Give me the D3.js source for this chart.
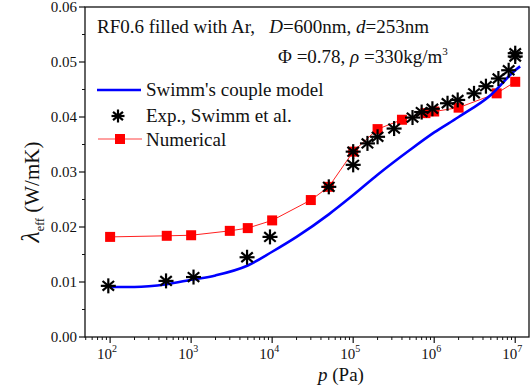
<!DOCTYPE html>
<html>
<head>
<meta charset="utf-8">
<script src="https://cdn.jsdelivr.net/npm/d3@7"></script>
<style>
  body { margin: 0; background: #fff; }
  text { fill: #111; white-space: pre; }
</style>
</head>
<body>
<div id="chart"></div>
<script>
// Experimental data (Swimm et al.)
const expP = [95, 490, 1070, 4900, 9400, 5e4, 1e5, 1e5, 1.5e5, 2e5, 3.2e5, 5.4e5, 7e5, 9.5e5,
  1.46e6, 1.95e6, 3.1e6, 4.35e6, 6.2e6, 8.3e6, 1e7, 1e7];
const expV = [0.0093, 0.0102, 0.0109, 0.0145, 0.0182, 0.0273, 0.0337, 0.0313, 0.0352, 0.0364, 0.0379,
  0.0399, 0.0409, 0.0415, 0.0425, 0.0431, 0.0443, 0.0456, 0.047, 0.0485, 0.051, 0.0516];

// Numerical results
const numP = [100, 500, 1000, 3000, 5000, 1e4, 3e4, 5e4, 1e5, 2e5, 4e5, 7.8e5, 1e6, 2e6, 5.9e6, 1e7];
const numV = [0.0182, 0.0184, 0.0185, 0.0193, 0.0198, 0.0212, 0.0249, 0.0273, 0.0337, 0.0378, 0.0395,
  0.0407, 0.041, 0.0417, 0.0443, 0.0464];

// Swimm's couple model curve
const modP = [100, 200, 500, 1000, 2000, 5000, 1e4, 2e4, 5e4, 1e5, 2e5, 5e5, 1e6, 2e6, 5e6, 1e7, 1.15e7];
const modV = [0.0091, 0.0091, 0.0096, 0.0104, 0.0112, 0.013, 0.0155, 0.0182, 0.0223, 0.0258, 0.0295,
  0.034, 0.0372, 0.04, 0.044, 0.0485, 0.0492];

const xTickExp = [2, 3, 4, 5, 6, 7];
const yTicks = [0, 0.01, 0.02, 0.03, 0.04, 0.05, 0.06];

const width = 532, height = 386;
const mLeft = 85, mRight = 529, mTop = 7, mBottom = 337;

const svg = d3.select("#chart").append("svg")
  .attr("width", width).attr("height", height)
  .attr("font-family", "'Liberation Serif', 'Times New Roman', 'DejaVu Serif', serif");

const x = d3.scaleLog().domain([Math.pow(10, 1.69), Math.pow(10, 7.17)]).range([mLeft, mRight]);
const y = d3.scaleLinear().domain([0, 0.06]).range([mBottom, mTop]);

// frame
svg.append("rect")
  .attr("x", mLeft).attr("y", mTop)
  .attr("width", mRight - mLeft).attr("height", mBottom - mTop)
  .attr("fill", "none").attr("stroke", "#111").attr("stroke-width", 1.3);

// x axis ticks
const minorX = [];
for (let e = 1; e <= 7; e++) {
  for (let m = 2; m <= 9; m++) {
    const v = m * Math.pow(10, e);
    if (v > x.domain()[0] && v < x.domain()[1]) minorX.push(v);
  }
}
const gx = svg.append("g");
gx.selectAll(".minor").data(minorX).join("line")
  .attr("x1", d => x(d)).attr("x2", d => x(d))
  .attr("y1", mBottom).attr("y2", mBottom + 3)
  .attr("stroke", "#111");
gx.selectAll(".major").data(xTickExp).join("line")
  .attr("x1", d => x(Math.pow(10, d))).attr("x2", d => x(Math.pow(10, d)))
  .attr("y1", mBottom).attr("y2", mBottom + 6)
  .attr("stroke", "#111").attr("stroke-width", 1.2);
const xl = gx.selectAll(".lab").data(xTickExp).join("text")
  .attr("x", d => x(Math.pow(10, d)) - 3)
  .attr("y", 359)
  .attr("text-anchor", "middle")
  .attr("font-size", 15);
xl.append("tspan").text("10");
xl.append("tspan").attr("dy", -7).attr("font-size", 10).text(d => d);

// y axis ticks
const minorY = d3.range(0.005, 0.06, 0.01);
const gy = svg.append("g");
gy.selectAll(".minor").data(minorY).join("line")
  .attr("x1", mLeft - 3).attr("x2", mLeft)
  .attr("y1", d => y(d)).attr("y2", d => y(d))
  .attr("stroke", "#111");
gy.selectAll(".major").data(yTicks).join("line")
  .attr("x1", mLeft - 6).attr("x2", mLeft)
  .attr("y1", d => y(d)).attr("y2", d => y(d))
  .attr("stroke", "#111").attr("stroke-width", 1.2);
gy.selectAll(".lab").data(yTicks).join("text")
  .attr("x", mLeft - 8)
  .attr("y", d => y(d) + 5)
  .attr("text-anchor", "end")
  .attr("font-size", 15)
  .text(d => d3.format(".2f")(d));

// axis titles
const yt = svg.append("text")
  .attr("transform", "translate(39,192) rotate(-90)")
  .attr("text-anchor", "middle")
  .attr("font-size", 21);
yt.append("tspan").attr("font-style", "italic").attr("font-size", 26).text("λ");
yt.append("tspan").attr("font-size", 12).attr("dy", 5).text("eff");
yt.append("tspan").attr("dy", -5).text(" (W/mK)");

const xt = svg.append("text")
  .attr("x", 341).attr("y", 381)
  .attr("text-anchor", "middle")
  .attr("font-size", 19);
xt.append("tspan").attr("font-style", "italic").text("p");
xt.append("tspan").text(" (Pa)");

// numerical series
const line = d3.line().x(d => x(d[0])).y(d => y(d[1]));
const numData = numP.map((p, i) => [p, numV[i]]);
svg.append("path")
  .datum(numData)
  .attr("d", line)
  .attr("fill", "none").attr("stroke", "#ff2020").attr("stroke-width", 1);
svg.append("g").selectAll("rect").data(numData).join("rect")
  .attr("x", d => x(d[0]) - 5).attr("y", d => y(d[1]) - 5)
  .attr("width", 10).attr("height", 10)
  .attr("fill", "#ff0000");

// model curve
const modData = modP.map((p, i) => [p, modV[i]]);
svg.append("path")
  .datum(modData)
  .attr("d", line.curve(d3.curveMonotoneX))
  .attr("fill", "none").attr("stroke", "#0000ff").attr("stroke-width", 2.6);

// asterisk marker
function star(g, cx, cy, r) {
  [90, 0, 40, 140].forEach(a => {
    const rad = a * Math.PI / 180;
    g.append("line")
      .attr("x1", cx - r * Math.cos(rad)).attr("y1", cy - r * Math.sin(rad))
      .attr("x2", cx + r * Math.cos(rad)).attr("y2", cy + r * Math.sin(rad))
      .attr("stroke", "#000").attr("stroke-width", 2.2);
  });
}
const gs = svg.append("g");
expP.forEach((p, i) => star(gs, x(p), y(expV[i]), 7.5));

// annotation
const t1 = svg.append("text").attr("x", 97).attr("y", 33).attr("font-size", 19);
t1.append("tspan").text("RF0.6 filled with Ar,   ");
t1.append("tspan").attr("font-style", "italic").text("D");
t1.append("tspan").text("=600nm, ");
t1.append("tspan").attr("font-style", "italic").text("d");
t1.append("tspan").text("=253nm");

const t2 = svg.append("text").attr("x", 278).attr("y", 63).attr("font-size", 19);
t2.append("tspan").text("Φ =0.78, ");
t2.append("tspan").attr("font-style", "italic").text("ρ");
t2.append("tspan").text(" =330kg/m");
t2.append("tspan").attr("dy", -8).attr("font-size", 11).text("3");

// legend
const lg = svg.append("g");
lg.append("line").attr("x1", 97).attr("x2", 141).attr("y1", 90).attr("y2", 90)
  .attr("stroke", "#0000ff").attr("stroke-width", 2.6);
lg.append("text").attr("x", 146).attr("y", 96).attr("font-size", 19).text("Swimm's couple model");
star(lg, 118, 116, 6.5);
lg.append("text").attr("x", 146).attr("y", 122).attr("font-size", 19).text("Exp., Swimm et al.");
lg.append("line").attr("x1", 98).attr("x2", 142).attr("y1", 139).attr("y2", 139)
  .attr("stroke", "#ff8080").attr("stroke-width", 1.5);
lg.append("rect").attr("x", 115).attr("y", 134).attr("width", 10).attr("height", 10).attr("fill", "#ff0000");
lg.append("text").attr("x", 146).attr("y", 146).attr("font-size", 19).text("Numerical");
</script>
</body>
</html>
